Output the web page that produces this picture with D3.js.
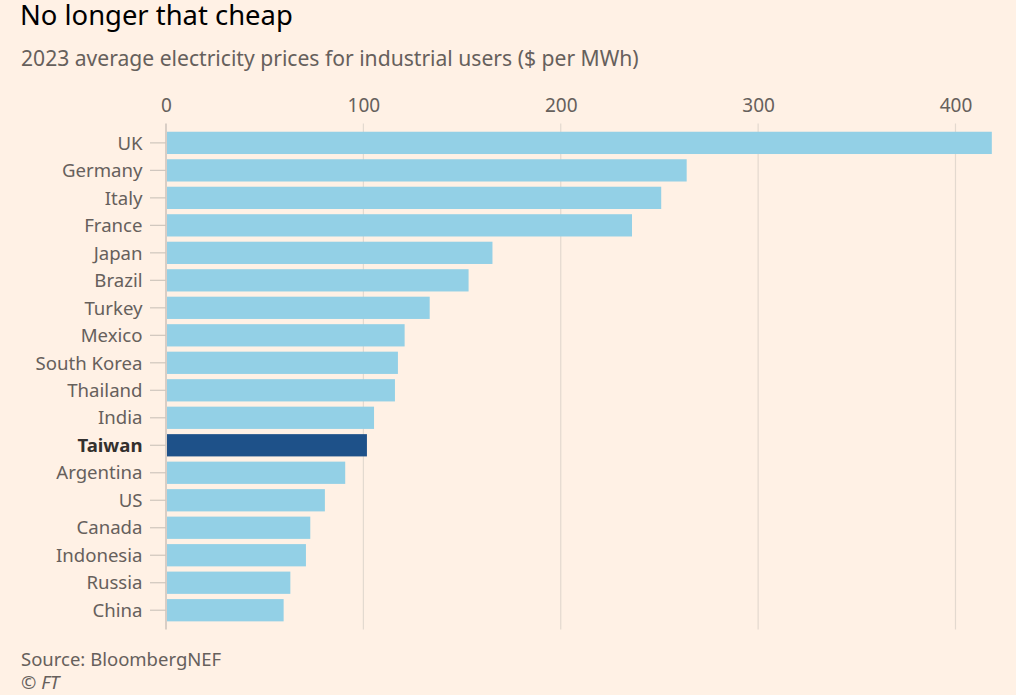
<!DOCTYPE html>
<html><head><meta charset="utf-8">
<script src="https://cdn.jsdelivr.net/npm/d3@7"></script>
<style>
html,body{margin:0;padding:0;background:#fff1e5;}
svg{display:block;}
text{font-family:"Noto Sans", "Open Sans", sans-serif;}
</style></head>
<body>
<svg id="chart" width="1016" height="695"></svg>
<script>
const countries = ["UK","Germany","Italy","France","Japan","Brazil","Turkey","Mexico","South Korea","Thailand","India","Taiwan","Argentina","US","Canada","Indonesia","Russia","China"];
const prices = [418.4,263.8,250.9,236.1,165.4,153.3,133.6,120.9,117.5,116.0,105.4,101.8,90.8,80.5,73.1,70.9,63.0,59.6];
const highlight = ["Taiwan"];
const xTicks = [0,100,200,300,400];
const titleText = "No longer that cheap";
const subtitleText = "2023 average electricity prices for industrial users ($ per MWh)";
const sourceText = "Source: BloombergNEF";
const creditText = "© FT";

const svg = d3.select("#chart");
const x = d3.scaleLinear().domain([0,400]).range([166,955.5]);
const y = d3.scaleBand().domain(countries).range([123.5,629.6]).paddingInner(0.19).paddingOuter(0.3);

// gridlines
svg.append("g").selectAll("line").data(xTicks).join("line")
  .attr("x1",d=>x(d)).attr("x2",d=>x(d))
  .attr("y1",y.range()[0]).attr("y2",y.range()[1])
  .attr("stroke",d=>d===0?"#bfb7b0":"#e3d9cf").attr("stroke-width",1.2);

// x axis labels on top
const xAxis = d3.axisTop(x).tickValues(xTicks).tickSize(0).tickPadding(0);
const gx = svg.append("g").attr("transform","translate(0,112)").call(xAxis);
gx.select(".domain").remove();
gx.selectAll("text").attr("fill","#66605c").style("font-size","19px").style("font-family","'Noto Sans', sans-serif");

// bars
svg.append("g").selectAll("rect").data(countries).join("rect")
  .attr("x",x(0)+1).attr("y",d=>y(d))
  .attr("width",(d,i)=>x(prices[i])-x(0)-1)
  .attr("height",y.bandwidth())
  .attr("fill",d=>highlight.includes(d)?"#1e5189":"#93d0e6");

// y axis
const yAxis = d3.axisLeft(y).tickSize(16).tickPadding(7.5);
const gy = svg.append("g").attr("transform",`translate(${x(0)},0)`).call(yAxis);
gy.select(".domain").remove();
gy.selectAll(".tick line").attr("stroke","#cfc6bd").attr("stroke-width",1.2);
gy.selectAll("text").style("font-size","18.6px").style("font-family","'Noto Sans', sans-serif")
  .attr("dy","0.36em")
  .style("font-weight",d=>highlight.includes(d)?"700":"400")
  .attr("fill",d=>highlight.includes(d)?"#33302e":"#66605c");

// title etc
svg.append("text").attr("x",20).attr("y",25).text(titleText)
  .attr("fill","#000").style("font-size","27.4px");
svg.append("text").attr("x",21).attr("y",66).text(subtitleText)
  .attr("fill","#66605c").style("font-size","21.1px");
svg.append("text").attr("x",21).attr("y",666).text(sourceText)
  .attr("fill","#66605c").style("font-size","18.5px");
svg.append("text").attr("x",21).attr("y",689).text(creditText)
  .attr("fill","#66605c").style("font-size","18.5px").style("font-style","italic");
</script>
</body></html>
